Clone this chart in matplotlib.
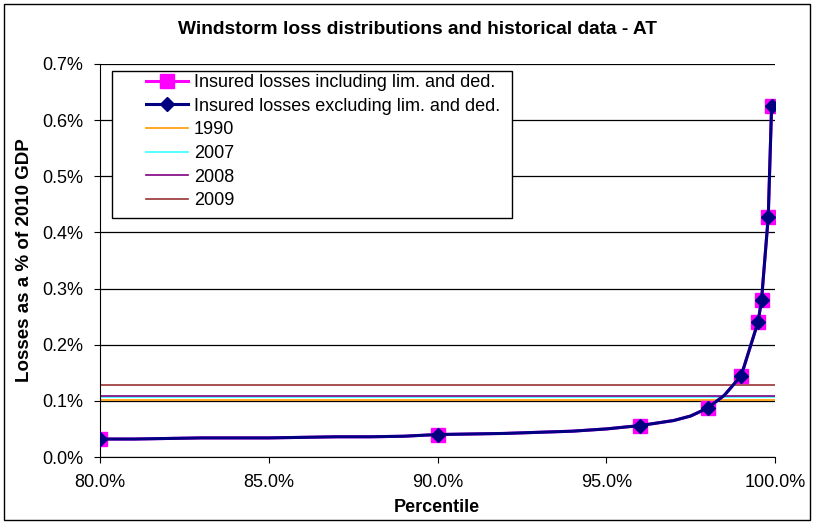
import matplotlib
matplotlib.use('Agg')
import matplotlib.pyplot as plt
from matplotlib.patches import Rectangle
from matplotlib.ticker import FuncFormatter, MultipleLocator

plt.rcParams['font.family'] = ['Liberation Sans', 'DejaVu Sans']

# --- datos ---
percentiles = [80, 81, 82, 83, 84, 85, 86, 87, 88, 89, 90, 91, 92, 93, 94, 95,
               96, 97, 97.5, 98, 98.5, 99, 99.5, 99.6, 99.8, 99.9]
losses = [0.032, 0.032, 0.033, 0.034, 0.034, 0.034, 0.035, 0.036, 0.036, 0.037,
          0.040, 0.041, 0.042, 0.044, 0.046, 0.050,
          0.056, 0.065, 0.073, 0.087, 0.110, 0.145, 0.241, 0.279, 0.428, 0.626]
marker_pcts = [80, 90, 96, 98, 99, 99.5, 99.6, 99.8, 99.9]

hist_years = ['1990', '2007', '2008', '2009']
hist_losses = [0.1015, 0.107, 0.109, 0.1275]
hist_colors = ['#FF9900', '#33FFFF', '#800080', '#993333']

label_incl = 'Insured losses including lim. and ded.'
label_excl = 'Insured losses excluding lim. and ded.'

mark_idx = [percentiles.index(p) for p in marker_pcts]

W, H = 814, 523
fig = plt.figure(figsize=(W / 100, H / 100), dpi=100)
ax = fig.add_axes([100/W, 1 - 457/H, 675/W, 393/H])

ax.plot(percentiles, losses, color='#FF00FF', lw=2.2, marker='s', ms=9.5,
        markevery=mark_idx, mec='#FF00FF', mfc='#FF00FF', label=label_incl, zorder=3)
ax.plot(percentiles, losses, color='#000080', lw=2.2, marker='D', ms=6.8,
        markevery=mark_idx, mec='#000080', mfc='#000080', label=label_excl, zorder=4)

for yr, val, col in zip(hist_years, hist_losses, hist_colors):
    ax.axhline(val, color=col, lw=1.2, label=yr, zorder=2)

ax.set_xlim(80, 100)
ax.set_ylim(0, 0.7)
ax.xaxis.set_major_locator(MultipleLocator(5))
ax.yaxis.set_major_locator(MultipleLocator(0.1))
ax.xaxis.set_major_formatter(FuncFormatter(lambda v, p: f'{v:.1f}%'))
ax.yaxis.set_major_formatter(FuncFormatter(lambda v, p: f'{v:.1f}%'))
ax.grid(axis='y', color='black', lw=0.9)
ax.set_axisbelow(True)
ax.spines['top'].set_visible(False)
ax.spines['right'].set_visible(False)
ax.tick_params(direction='out', length=4.5, labelsize=13, color='black')
ax.tick_params(axis='y', pad=7.5)
ax.tick_params(axis='x', pad=8)

# etiquetas de ejes y titulo
fig.text(437/W, 1 - 507/H, 'Percentile', ha='center', va='center',
         fontsize=13, fontweight='bold')
fig.text(25/W, 1 - 260/H, 'Losses as a % of 2010 GDP', ha='center', va='center',
         rotation=90, fontsize=13.5, fontweight='bold')
fig.text(418/W, 1 - 30/H, 'Windstorm loss distributions and historical data - AT',
         ha='center', va='center', fontsize=13.8, fontweight='bold')

# leyenda sin marco + rectangulo propio (dentro de los ejes para el orden de dibujo)
leg = ax.legend(loc='upper left', bbox_to_anchor=(146/W, 1 - 74/H),
                bbox_transform=fig.transFigure, fontsize=13, frameon=False,
                handlelength=2.35, handletextpad=0.3, borderpad=0,
                labelspacing=0.37, borderaxespad=0)
leg.set_zorder(6)
ax.add_patch(Rectangle((112/W, 1 - 218/H), 400/W, 147/H, transform=fig.transFigure,
                       facecolor='white', edgecolor='black', lw=1.0, zorder=5,
                       clip_on=False))

fig.patches.append(Rectangle((4/W, 3/H), 806/W, 516/H, transform=fig.transFigure,
                             fill=False, edgecolor='black', lw=1.0))

fig.savefig('out.png', dpi=100)
